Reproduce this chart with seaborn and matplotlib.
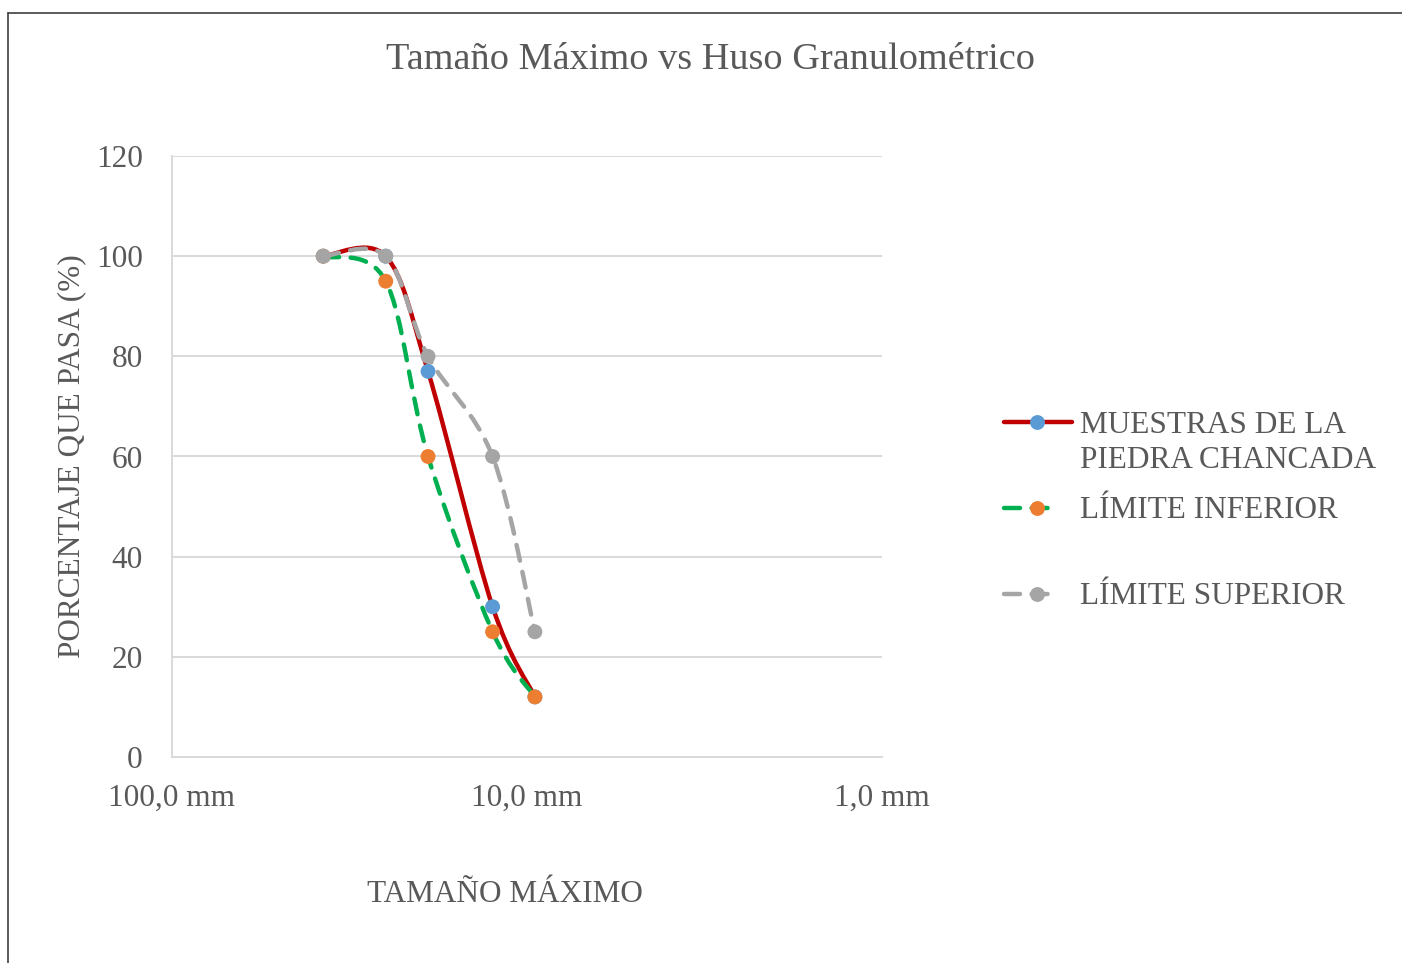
import numpy as np
import pandas as pd
import matplotlib
matplotlib.use("Agg")
import matplotlib.pyplot as plt
import seaborn as sns
from matplotlib.path import Path
from matplotlib.patches import PathPatch
from matplotlib.lines import Line2D

# --- data -------------------------------------------------------------
sizes_mm = [37.5, 25.0, 19.0, 12.5, 9.5]
muestras = [100, 100, 77, 30, 12]
limite_inferior = [100, 95, 60, 25, 12]
limite_superior = [100, 100, 80, 60, 25]
series_names = ["MUESTRAS DE LA\nPIEDRA CHANCADA", "LÍMITE INFERIOR", "LÍMITE SUPERIOR"]
x_ticks = [100, 10, 1]
x_tick_labels = ["100,0 mm", "10,0 mm", "1,0 mm"]
y_ticks = [0, 20, 40, 60, 80, 100, 120]

# --- style ------------------------------------------------------------
sns.set_theme(style="white")
plt.rcParams["font.family"] = ["Liberation Serif", "DejaVu Serif"]
TXT = "#595959"
GRID = "#D9D9D9"
FS = 22.5

W, H, DPI = 1402, 963, 100
fig = plt.figure(figsize=(W / DPI, H / DPI), dpi=DPI)
fig.patch.set_facecolor("white")

ax = fig.add_axes([172 / W, 1 - 757 / H, (882 - 172) / W, (757 - 156) / H])
ax.set_xscale("log")
ax.set_xlim(100, 1)
ax.set_ylim(0, 120)

ax.set_yticks(y_ticks)
ax.set_xticks(x_ticks)
ax.set_xticklabels(x_tick_labels)
ax.minorticks_off()
ax.tick_params(axis="both", length=0, labelsize=FS, colors=TXT)
ax.tick_params(axis="x", pad=19)
ax.tick_params(axis="y", pad=21)
ax.grid(axis="y", color=GRID, lw=1.4)
ax.grid(axis="x", visible=False)
for s in ["top", "right"]:
    ax.spines[s].set_visible(False)
for s in ["left", "bottom"]:
    ax.spines[s].set_color(GRID)
    ax.spines[s].set_linewidth(1.4)


def smooth_path(xs, ys):
    """Bezier path through the points, with Catmull-Rom style control points in screen space."""
    pts = ax.transData.transform(np.column_stack([xs, ys]))
    n = len(pts)
    verts = [pts[0]]
    codes = [Path.MOVETO]
    for i in range(n - 1):
        p_prev = pts[i - 1] if i > 0 else pts[i]
        p_next = pts[i + 2] if i + 2 < n else pts[i + 1]
        c1 = pts[i] + (pts[i + 1] - p_prev) / 6.0
        c2 = pts[i + 1] - (p_next - pts[i]) / 6.0
        verts += [c1, c2, pts[i + 1]]
        codes += [Path.CURVE4] * 3
    return Path(ax.transData.inverted().transform(np.array(verts)), codes)


DASH = (0, (3.6, 2.6))
series = [
    (muestras, "#C00000", "-", "#5B9BD5"),
    (limite_inferior, "#00B050", DASH, "#ED7D31"),
    (limite_superior, "#A5A5A5", DASH, "#A5A5A5"),
]
LW = 3.2
for k, (vals, lc, ls, mc) in enumerate(series):
    patch = PathPatch(smooth_path(sizes_mm, vals), fill=False, edgecolor=lc,
                      lw=LW, linestyle=ls, capstyle="round", joinstyle="round",
                      zorder=3 + 2 * k)
    ax.add_patch(patch)
    df = pd.DataFrame({"size": sizes_mm, "pct": vals})
    sns.scatterplot(data=df, x="size", y="pct", ax=ax, color=mc, s=115,
                    edgecolor="none", linewidth=0, zorder=4 + 2 * k, legend=False)

ax.set_xlabel("")
ax.set_ylabel("")

# --- titles -----------------------------------------------------------
fig.text(710 / W, 1 - 60 / H, "Tamaño Máximo vs Huso Granulométrico",
         ha="center", va="center", fontsize=27.5, color=TXT)
fig.text(505 / W, 1 - 895 / H, "TAMAÑO MÁXIMO", ha="center", va="center",
         fontsize=FS, color=TXT)
fig.text(72 / W, 1 - 456 / H, "PORCENTAJE QUE PASA (%)", ha="center", va="center",
         rotation=90, fontsize=FS, color=TXT)

# --- legend -----------------------------------------------------------
def fx(px):
    return px / W


def fy(py):
    return 1 - py / H


legend_rows = [422, 508, 594]
text_centres = [443, 511, 597]
for k, ((vals, lc, ls, mc), name) in enumerate(zip(series, series_names)):
    y = legend_rows[k]
    x_end = 1072 if k == 0 else 1054
    fig.add_artist(Line2D([fx(1004), fx(x_end)], [fy(y), fy(y)], color=lc, lw=LW,
                          linestyle=ls, solid_capstyle="round", dash_capstyle="round"))
    fig.add_artist(Line2D([fx(1037)], [fy(y)], marker="o", markersize=10.7,
                          markerfacecolor=mc, markeredgewidth=0, linestyle="none"))
    fig.text(fx(1080), fy(text_centres[k]), name, ha="left", va="center",
             fontsize=FS, color=TXT, linespacing=1.3)

# --- outer frame ------------------------------------------------------
fig.add_artist(Line2D([fx(8), fx(W)], [fy(13), fy(13)], color="#404040", lw=1.2))
fig.add_artist(Line2D([fx(8), fx(8)], [fy(13), fy(H)], color="#404040", lw=1.2))

fig.savefig("out.png", dpi=DPI)
